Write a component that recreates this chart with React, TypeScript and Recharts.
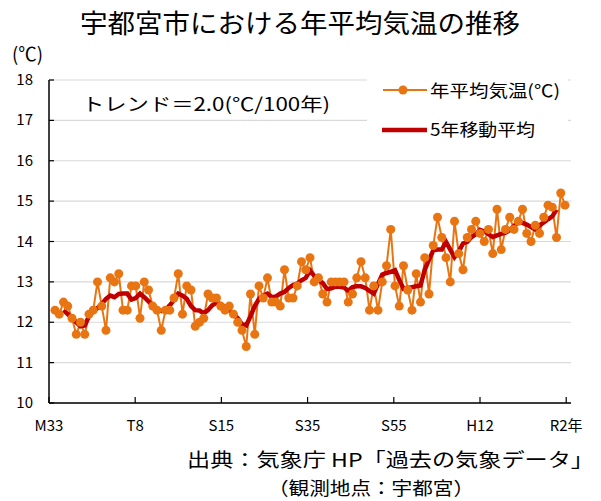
import React from 'react';
import { LineChart, Line, XAxis, YAxis, CartesianGrid } from 'recharts';

const FONT = '"Noto Sans CJK JP", "Noto Sans", sans-serif';
const ORANGE = '#E97512';
const RED = '#C00000';

// Annual mean temperature, 1900 (M33) .. 2020 (R2)
const START_YEAR = 1900;
const TEMPS = [
  12.3, 12.2, 12.5, 12.4, 12.1, 11.7, 12.0, 11.7, 12.2, 12.3,
  13.0, 12.4, 11.8, 13.1, 13.0, 13.2, 12.3, 12.3, 12.9, 12.9,
  12.1, 13.0, 12.8, 12.4, 12.3, 11.8, 12.3, 12.3, 12.6, 13.2,
  12.2, 12.9, 12.8, 11.9, 12.0, 12.1, 12.7, 12.6, 12.6, 12.4,
  12.3, 12.4, 12.2, 12.0, 11.8, 11.4, 12.7, 11.7, 12.9, 12.6,
  13.1, 12.5, 12.5, 12.4, 13.3, 12.6, 12.6, 12.9, 13.5, 13.3,
  13.6, 13.0, 13.1, 12.7, 12.5, 13.0, 13.0, 13.0, 13.0, 12.5,
  12.7, 13.1, 13.5, 13.1, 12.3, 12.9, 12.3, 13.0, 13.4, 14.3,
  12.9, 12.4, 13.4, 12.8, 12.3, 13.2, 12.5, 13.6, 12.7, 13.9,
  14.6, 14.1, 13.6, 13.0, 14.5, 13.7, 13.3, 14.1, 14.3, 14.5,
  14.2, 14.0, 14.3, 13.7, 14.8, 13.8, 14.3, 14.6, 14.3, 14.5,
  14.8, 14.2, 14.0, 14.4, 14.2, 14.6, 14.9, 14.85, 14.1, 15.2,
  14.9,
];

// 5-year moving average, 1902 .. 2018
const MA_START_YEAR = 1902;
const MOVING_AVG = [
  12.30, 12.20, 12.10, 12.00, 11.90, 11.92, 12.15, 12.27,
  12.35, 12.45, 12.58, 12.66, 12.62, 12.70, 12.71, 12.71, 12.56, 12.60,
  12.71, 12.62, 12.52, 12.40, 12.32, 12.28, 12.30, 12.42, 12.55, 12.71,
  12.66, 12.58, 12.40, 12.30, 12.29, 12.22, 12.30, 12.42, 12.48, 12.45,
  12.38, 12.30, 12.21, 12.10, 11.95, 11.92, 12.15, 12.40, 12.58, 12.66,
  12.71, 12.62, 12.64, 12.71, 12.75, 12.85, 12.92, 12.96, 13.04, 13.10,
  13.28, 13.15, 13.05, 12.97, 12.82, 12.84, 12.88, 12.88, 12.86, 12.78,
  12.87, 12.89, 12.89, 12.85, 12.78, 12.71, 12.95, 13.18, 13.22, 13.25,
  13.29, 13.05, 12.83, 12.85, 12.87, 12.89, 12.91, 13.30, 13.55, 13.78,
  13.80, 13.80, 13.99, 13.80, 13.61, 13.75, 13.95, 13.99, 14.11, 14.18,
  14.29, 14.25, 14.18, 14.11, 14.15, 14.19, 14.22, 14.28, 14.38, 14.50,
  14.46, 14.42, 14.36, 14.30, 14.40, 14.47, 14.55, 14.62, 14.79,
];

const X_DOMAIN = [1898.59, 2021.41];
const X_TICKS = [1898.59, 1918.87, 1939.15, 1959.43, 1979.72, 2000.0, 2020.28];
const X_TICK_LABELS = ['M33', 'T8', 'S15', 'S35', 'S55', 'H12', 'R2年'];
const Y_TICKS = [10, 11, 12, 13, 14, 15, 16, 17, 18];

const TITLE = '宇都宮市における年平均気温の推移';
const UNIT = '(℃)';
const TREND = 'トレンド＝2.0(℃/100年)';
const LEGEND_ANNUAL = '年平均気温(℃)';
const LEGEND_MA = '5年移動平均';
const SOURCE = '出典：気象庁 HP「過去の気象データ」';
const SITE = '（観測地点：宇都宮）';

const data = TEMPS.map((t, i) => {
  const year = START_YEAR + i;
  const mi = year - MA_START_YEAR;
  return {
    year,
    temp: t,
    ma: mi >= 0 && mi < MOVING_AVG.length ? MOVING_AVG[mi] : null,
  };
});

const X_TICK_MARGIN = 10;
const Y_TICK_MARGIN = 16;

const XTick = (props: any) => {
  const { x, y, index } = props;
  const axisY = y - X_TICK_MARGIN;
  return (
    <g>
      <line x1={x} x2={x} y1={axisY} y2={axisY - 6} stroke="#000" strokeWidth={1.2} />
      <text x={x} y={axisY + 28} textAnchor="middle" fontSize={15} fill="#000" fontFamily={FONT}>
        {X_TICK_LABELS[index]}
      </text>
    </g>
  );
};

const YTick = (props: any) => {
  const { x, y, payload } = props;
  const axisX = x + Y_TICK_MARGIN;
  return (
    <g>
      <line x1={axisX} x2={axisX + 5} y1={y} y2={y} stroke="#000" strokeWidth={1.2} />
      <text x={x} y={y + 5} textAnchor="end" fontSize={15} fill="#000" fontFamily={FONT}>
        {payload.value}
      </text>
    </g>
  );
};

export default function App() {
  return (
    <div style={{ position: 'absolute', left: 0, top: 0, width: 601, height: 501, background: '#fff' }}>
      <LineChart
        width={601}
        height={501}
        data={data}
        margin={{ top: 80, right: 30, bottom: 68, left: 0 }}
      >
        <CartesianGrid horizontal vertical={false} stroke="#d9d9d9" strokeWidth={1.2} />
        <XAxis
          dataKey="year"
          type="number"
          domain={X_DOMAIN}
          ticks={X_TICKS}
          interval={0}
          height={30}
          tickSize={0}
          tickMargin={X_TICK_MARGIN}
          tick={<XTick />}
          axisLine={{ stroke: '#000', strokeWidth: 1.5 }}
          tickLine={false}
        />
        <YAxis
          type="number"
          domain={[10, 18]}
          ticks={Y_TICKS}
          interval={0}
          width={49}
          tickSize={0}
          tickMargin={Y_TICK_MARGIN}
          tick={<YTick />}
          axisLine={{ stroke: '#000', strokeWidth: 1.5 }}
          tickLine={false}
        />
        <Line
          type="linear"
          dataKey="temp"
          stroke={ORANGE}
          strokeWidth={2}
          dot={{ r: 4.5, fill: ORANGE, stroke: ORANGE, strokeWidth: 0 }}
          isAnimationActive={false}
        />
        <Line
          type="linear"
          dataKey="ma"
          stroke={RED}
          strokeWidth={4.5}
          dot={false}
          connectNulls={false}
          isAnimationActive={false}
        />
      </LineChart>
      <svg
        width={601}
        height={501}
        style={{ position: 'absolute', left: 0, top: 0, pointerEvents: 'none' }}
        fontFamily={FONT}
      >
        <text x={300} y={33} textAnchor="middle" fontSize={26} fill="#000" textLength={440} lengthAdjust="spacingAndGlyphs">
          {TITLE}
        </text>
        <text x={12} y={61} fontSize={19} fill="#000" textLength={31} lengthAdjust="spacingAndGlyphs">{UNIT}</text>
        <text x={82} y={111} fontSize={18} fill="#000" textLength={248} lengthAdjust="spacingAndGlyphs">{TREND}</text>
        <rect x={367} y={72} width={201} height={78} fill="#fff" />
        <line x1={383} x2={427} y1={90} y2={90} stroke={ORANGE} strokeWidth={2} />
        <circle cx={403} cy={90} r={4.5} fill={ORANGE} />
        <text x={430} y={97} fontSize={17} fill="#000" textLength={130} lengthAdjust="spacingAndGlyphs">{LEGEND_ANNUAL}</text>
        <line x1={382} x2={427} y1={130} y2={130} stroke={RED} strokeWidth={4.5} />
        <text x={430} y={136} fontSize={17} fill="#000" textLength={105} lengthAdjust="spacingAndGlyphs">{LEGEND_MA}</text>
        <text x={187} y={467} fontSize={19} fill="#000" textLength={407} lengthAdjust="spacingAndGlyphs">{SOURCE}</text>
        <text x={268} y={495} fontSize={18} fill="#000" textLength={206} lengthAdjust="spacingAndGlyphs">{SITE}</text>
      </svg>
    </div>
  );
}
